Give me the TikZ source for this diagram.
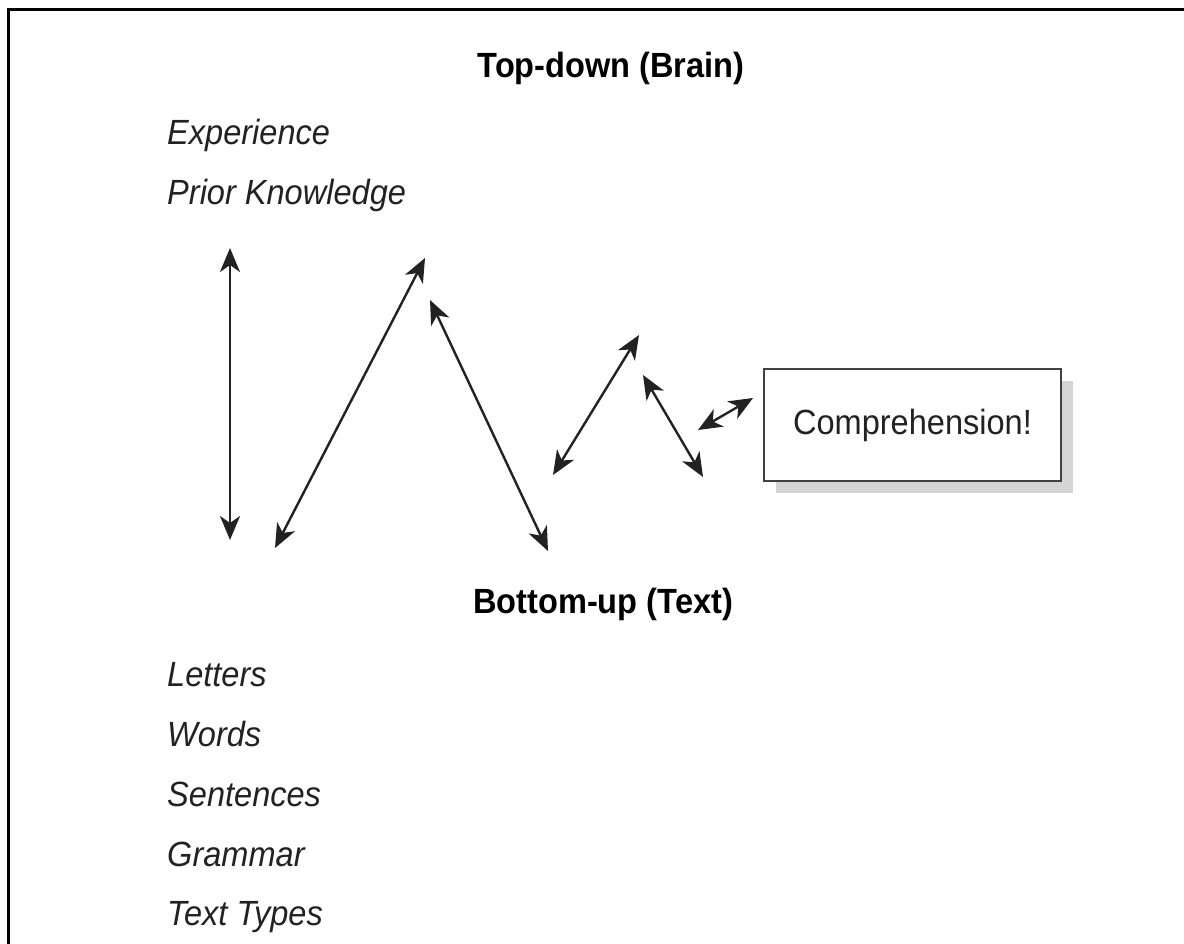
\documentclass[tikz,border=0pt]{standalone}
\usepackage{fontspec}
\setmainfont{Liberation Sans}[FakeStretch=0.93]
\usetikzlibrary{arrows.meta}
\definecolor{inkgray}{HTML}{222222}
\definecolor{shadowgray}{HTML}{D4D4D4}
\tikzset{
  tip/.tip={Stealth[length=24pt,width=20pt,inset=7pt]},
  heading/.style={font=\fontsize{35}{42}\selectfont\bfseries, text=black, inner sep=0pt, anchor=base},
  item/.style={font=\fontsize{35}{42}\selectfont\itshape, text=inkgray, inner sep=0pt, anchor=base west},
  link/.style={draw=inkgray, line width=2.4pt, {tip}-{tip}},
  framestroke/.style={draw=black, line width=3pt},
  resultbox/.style={draw=black!75, line width=1.6pt, fill=white, minimum width=297pt, minimum height=112pt,
    font=\fontsize{35}{42}\selectfont, text=inkgray, inner sep=0pt}
}
\begin{document}
\begin{tikzpicture}[x=1pt,y=-1pt]
  \useasboundingbox (0,0) rectangle (1184,944);
  \fill[white] (0,0) rectangle (1184,944);

  % open frame: top and left edges
  \draw[framestroke] (1184,10) -- (8,10) -- (8,944);

  % headings
  \node[heading] (top) at (611,78) {Top-down (Brain)};
  \node[heading] (bottom) at (603,613) {Bottom-up (Text)};

  % top-down sources
  \node[item] (exp) at (167,145) {Experience};
  \node[item] (prior) at (167,205) {Prior Knowledge};

  % bottom-up sources
  \node[item] (letters) at (167,686) {Letters};
  \node[item] (words) at (167,746) {Words};
  \node[item] (sentences) at (167,806) {Sentences};
  \node[item] (grammar) at (167,866) {Grammar};
  \node[item] (types) at (167,925) {Text Types};

  % result box with drop shadow
  \fill[shadowgray] (776,381) rectangle (1073,493);
  \node[resultbox] (comp) at (912.5,425) {Comprehension!};

  % zig-zag of interactions
  \coordinate (a1) at (230,248);
  \coordinate (b1) at (230,540);
  \coordinate (a2) at (275,548);
  \coordinate (b2) at (425,258);
  \coordinate (a3) at (430,300);
  \coordinate (b3) at (548,551);
  \coordinate (a4) at (553,475);
  \coordinate (b4) at (639,335);
  \coordinate (a5) at (643,375);
  \coordinate (b5) at (703,477);
  \coordinate (a6) at (698,430);
  \coordinate (b6) at (753,398);

  \draw[link] (a1) -- (b1);
  \draw[link] (a2) -- (b2);
  \draw[link] (a3) -- (b3);
  \draw[link] (a4) -- (b4);
  \draw[link] (a5) -- (b5);
  \draw[link] (a6) -- (b6);
\end{tikzpicture}
\end{document}
